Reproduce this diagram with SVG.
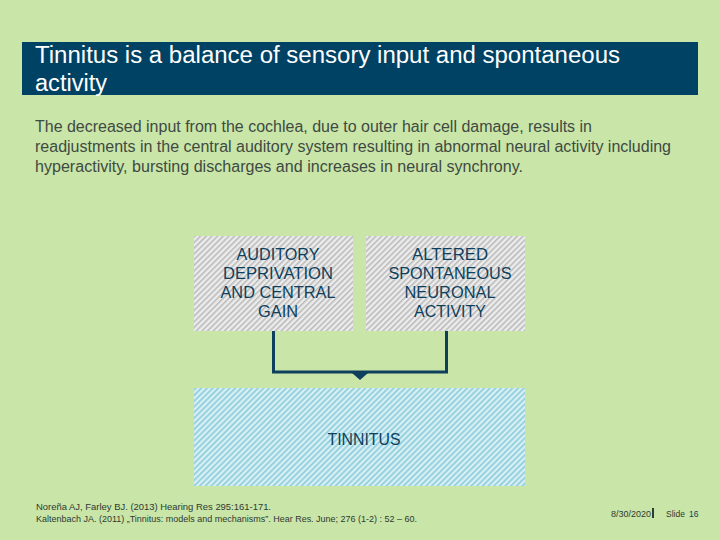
<svg xmlns="http://www.w3.org/2000/svg" width="720" height="540" viewBox="0 0 720 540">
<defs>
<style>
.t{font-family:"Liberation Sans",Arial,sans-serif}
.box{font-family:"Liberation Sans",Arial,sans-serif;font-size:16px;fill:#0E3F5C;text-anchor:middle}
.conn{fill:none;stroke:#0E3F5C;stroke-width:3}
</style>
<pattern id="grey" width="4" height="4" patternUnits="userSpaceOnUse" patternTransform="rotate(45)">
<rect width="4" height="4" fill="#ECECEC"/>
<rect width="1.5" height="4" fill="#B8B8B8"/>
</pattern>
<pattern id="blue" width="4" height="4" patternUnits="userSpaceOnUse" patternTransform="rotate(45)">
<rect width="4" height="4" fill="#D8F0F4"/>
<rect width="1.7" height="4" fill="#8ECDDC"/>
</pattern>
</defs>
<rect width="720" height="540" fill="#C9E5A7"/>
<g id="title">
<rect x="22" y="42" width="676" height="53" fill="#004264"/>
<text class="t" x="35" y="63" font-size="23" fill="#FFFFFF" textLength="585" lengthAdjust="spacingAndGlyphs">Tinnitus is a balance of sensory input and spontaneous</text>
<text class="t" x="35" y="91" font-size="23" fill="#FFFFFF" textLength="72" lengthAdjust="spacingAndGlyphs">activity</text>
</g>
<g id="body" class="t" font-size="15.8" fill="#3F4A44">
<text x="35" y="132" textLength="557" lengthAdjust="spacingAndGlyphs">The decreased input from the cochlea, due to outer hair cell damage, results in</text>
<text x="35" y="152" textLength="636" lengthAdjust="spacingAndGlyphs">readjustments in the central auditory system resulting in abnormal neural activity including</text>
<text x="35" y="172" textLength="488" lengthAdjust="spacingAndGlyphs">hyperactivity, bursting discharges and increases in neural synchrony.</text>
</g>
<g id="connectors">
<path class="conn" d="M273.5 331 V372 H446.5 V331"/>
<polygon points="352,373 368,373 360,380" fill="#0E3F5C"/>
</g>
<g id="node-auditory">
<rect x="194" y="236" width="159" height="95" fill="url(#grey)"/>
<text class="box" x="278" y="260" textLength="83" lengthAdjust="spacingAndGlyphs">AUDITORY</text>
<text class="box" x="278" y="279" textLength="110" lengthAdjust="spacingAndGlyphs">DEPRIVATION</text>
<text class="box" x="278" y="298" textLength="115" lengthAdjust="spacingAndGlyphs">AND CENTRAL</text>
<text class="box" x="278" y="317" textLength="40" lengthAdjust="spacingAndGlyphs">GAIN</text>
</g>
<g id="node-altered">
<rect x="366" y="236" width="159" height="95" fill="url(#grey)"/>
<text class="box" x="450" y="260" textLength="76" lengthAdjust="spacingAndGlyphs">ALTERED</text>
<text class="box" x="450" y="279" textLength="123" lengthAdjust="spacingAndGlyphs">SPONTANEOUS</text>
<text class="box" x="450" y="298" textLength="91" lengthAdjust="spacingAndGlyphs">NEURONAL</text>
<text class="box" x="450" y="317" textLength="72" lengthAdjust="spacingAndGlyphs">ACTIVITY</text>
</g>
<g id="node-tinnitus">
<rect x="194" y="388" width="331" height="98" fill="url(#blue)"/>
<text class="box" x="364" y="445" textLength="73" lengthAdjust="spacingAndGlyphs">TINNITUS</text>
</g>
<g id="footer" class="t" font-size="9" fill="#2E3A33">
<text x="36" y="510" textLength="235" lengthAdjust="spacingAndGlyphs">Noreña AJ, Farley BJ. (2013) Hearing Res 295:161-171.</text>
<text x="36" y="522" textLength="381" lengthAdjust="spacingAndGlyphs">Kaltenbach JA. (2011) „Tinnitus: models and mechanisms”. Hear Res. June; 276 (1-2) : 52 – 60.</text>
<text x="611" y="517" font-size="8.5" textLength="40" lengthAdjust="spacingAndGlyphs">8/30/2020</text>
<rect x="652" y="508" width="2" height="10" fill="#2E3A33"/>
<text x="666" y="517" font-size="8.5">Slide</text>
<text x="689" y="517" font-size="8.5" fill="#0E3F5C">16</text>
</g>
</svg>
